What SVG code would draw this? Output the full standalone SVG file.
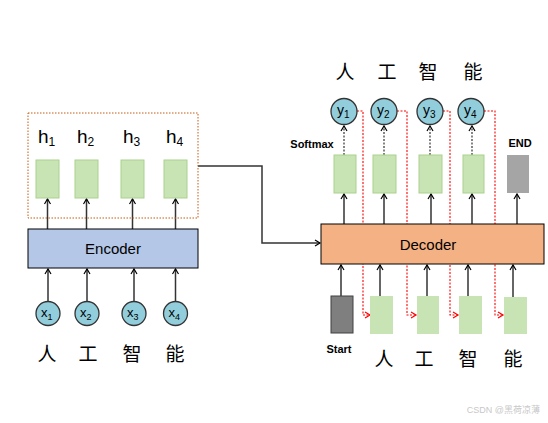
<svg xmlns="http://www.w3.org/2000/svg" width="548" height="423" viewBox="0 0 548 423">
<defs>
<marker id="ah" markerWidth="8" markerHeight="8" refX="6" refY="4" orient="auto" markerUnits="userSpaceOnUse">
<path d="M1,1 L6,4 L1,7" fill="none" stroke="#000" stroke-width="1.2"/>
</marker>
<marker id="ahr" markerWidth="8" markerHeight="8" refX="6" refY="4" orient="auto" markerUnits="userSpaceOnUse">
<path d="M1,1 L6,4 L1,7" fill="none" stroke="#FF0000" stroke-width="1.2"/>
</marker>
<style>
.g{fill:#C9E4B4;stroke:#A9D18E;stroke-width:1}
.c{fill:#92CDDC;stroke:#333;stroke-width:1.3}
.t{font-family:"Liberation Sans",Arial,sans-serif;fill:#000}
.cj{font-family:"Noto Sans CJK SC",sans-serif;font-size:19px;fill:#000;text-anchor:middle}
.b{font-family:"Liberation Sans",Arial,sans-serif;font-weight:bold;font-size:11px;fill:#000;text-anchor:middle}
.a{stroke:#333;stroke-width:1.5;fill:none;marker-end:url(#ah)}
.ad{stroke:#333;stroke-width:1.2;stroke-dasharray:2,1.5;fill:none;marker-end:url(#ah)}
.r{stroke:#FF0000;stroke-width:1.1;stroke-dasharray:2,1.5;fill:none;marker-end:url(#ahr)}
</style>
</defs>
<rect width="548" height="423" fill="#fff"/>

<g id="connectors">
<line class="a" x1="47.5" y1="229" x2="47.5" y2="199"/>
<line class="a" x1="86.5" y1="229" x2="86.5" y2="199"/>
<line class="a" x1="132.5" y1="229" x2="132.5" y2="199"/>
<line class="a" x1="175.5" y1="229" x2="175.5" y2="199"/>
<line class="a" x1="48" y1="301" x2="48" y2="269"/>
<line class="a" x1="87" y1="301" x2="87" y2="269"/>
<line class="a" x1="134" y1="301" x2="134" y2="269"/>
<line class="a" x1="175.5" y1="301" x2="175.5" y2="269"/>
<polyline class="a" points="198,166 262,166 262,243 320,243"/>
<line class="a" x1="344" y1="224" x2="344" y2="194"/>
<line class="a" x1="384" y1="224" x2="384" y2="194"/>
<line class="a" x1="431" y1="224" x2="431" y2="194"/>
<line class="a" x1="472" y1="224" x2="472" y2="194"/>
<line class="a" x1="517" y1="224" x2="517" y2="194"/>
<line class="a" x1="341" y1="296" x2="341" y2="265"/>
<line class="a" x1="380" y1="296" x2="380" y2="265"/>
<line class="a" x1="427" y1="296" x2="427" y2="265"/>
<line class="a" x1="468" y1="297" x2="468" y2="265"/>
<line class="a" x1="513" y1="297" x2="513" y2="265"/>
<line class="ad" x1="344" y1="155" x2="344" y2="126"/>
<line class="ad" x1="384" y1="155" x2="384" y2="126"/>
<line class="ad" x1="430" y1="155" x2="430" y2="126"/>
<line class="ad" x1="472" y1="155" x2="472" y2="126"/>
<polyline class="r" points="357,111 363,111 363,315 370,315"/>
<polyline class="r" points="397,111 407,111 407,315 416,315"/>
<polyline class="r" points="443,111 450,111 450,315 458,315"/>
<polyline class="r" points="484,111 495,111 495,315 503,315"/>
</g>

<g id="encoder-states">
<rect x="28" y="113" width="170" height="105" fill="none" stroke="#C55A11" stroke-width="1" stroke-dasharray="1.5,1.5"/>
<rect class="g" x="36" y="160" width="23" height="38"/>
<rect class="g" x="75" y="160" width="23" height="38"/>
<rect class="g" x="121" y="160" width="23" height="38"/>
<rect class="g" x="164" y="160" width="23" height="38"/>
<text class="t" x="38" y="143" font-size="19">h<tspan font-size="12" dy="3">1</tspan></text>
<text class="t" x="77" y="143" font-size="19">h<tspan font-size="12" dy="3">2</tspan></text>
<text class="t" x="123" y="143" font-size="19">h<tspan font-size="12" dy="3">3</tspan></text>
<text class="t" x="166" y="143" font-size="19">h<tspan font-size="12" dy="3">4</tspan></text>
</g>

<g id="encoder">
<rect x="28" y="229" width="170" height="39" fill="#B4C7E7" stroke="#000" stroke-width="1"/>
<text class="t" x="113" y="254" font-size="15" text-anchor="middle">Encoder</text>
</g>

<g id="encoder-inputs">
<circle class="c" cx="48" cy="313.5" r="12"/>
<circle class="c" cx="87" cy="313.5" r="12"/>
<circle class="c" cx="134" cy="313.5" r="12"/>
<circle class="c" cx="175.5" cy="313.5" r="12"/>
<text class="t" x="41" y="317" font-size="13">x<tspan font-size="9" dy="3">1</tspan></text>
<text class="t" x="80" y="317" font-size="13">x<tspan font-size="9" dy="3">2</tspan></text>
<text class="t" x="127" y="317" font-size="13">x<tspan font-size="9" dy="3">3</tspan></text>
<text class="t" x="168.5" y="317" font-size="13">x<tspan font-size="9" dy="3">4</tspan></text>
<text class="cj" x="47" y="361">人</text>
<text class="cj" x="88" y="361">工</text>
<text class="cj" x="132" y="361">智</text>
<text class="cj" x="175" y="361">能</text>
</g>

<g id="decoder">
<rect x="321" y="224" width="223" height="40" fill="#F4B183" stroke="#000" stroke-width="1"/>
<text class="t" x="428" y="250" font-size="15" text-anchor="middle">Decoder</text>
</g>

<g id="decoder-outputs">
<rect class="g" x="334" y="155" width="22" height="38"/>
<rect class="g" x="373" y="155" width="23" height="38"/>
<rect class="g" x="419" y="155" width="23" height="38"/>
<rect class="g" x="463" y="155" width="21" height="38"/>
<rect x="507" y="155" width="22" height="38" fill="#A5A5A5"/>
<text class="b" x="312" y="148">Softmax</text>
<text class="b" x="520" y="147">END</text>
<circle class="c" cx="344" cy="111.5" r="13"/>
<circle class="c" cx="384" cy="111.5" r="13"/>
<circle class="c" cx="430" cy="111.5" r="13"/>
<circle class="c" cx="471" cy="111.5" r="13"/>
<text class="t" x="337" y="115" font-size="14">y<tspan font-size="10" dy="3">1</tspan></text>
<text class="t" x="377" y="115" font-size="14">y<tspan font-size="10" dy="3">2</tspan></text>
<text class="t" x="423" y="115" font-size="14">y<tspan font-size="10" dy="3">3</tspan></text>
<text class="t" x="464" y="115" font-size="14">y<tspan font-size="10" dy="3">4</tspan></text>
<text class="cj" x="345" y="79">人</text>
<text class="cj" x="387" y="79">工</text>
<text class="cj" x="428" y="79">智</text>
<text class="cj" x="473" y="79">能</text>
</g>

<g id="decoder-inputs">
<rect x="331" y="296" width="22" height="37" fill="#7F7F7F" stroke="#404040" stroke-width="1"/>
<rect x="370" y="296" width="23" height="38" fill="#C9E4B4"/>
<rect x="417" y="296" width="22" height="38" fill="#C9E4B4"/>
<rect x="459" y="296" width="23" height="38" fill="#C9E4B4"/>
<rect x="504" y="297" width="23" height="37" fill="#C9E4B4"/>
<text class="b" x="339" y="353">Start</text>
<text class="cj" x="384" y="366">人</text>
<text class="cj" x="424" y="366">工</text>
<text class="cj" x="468" y="366">智</text>
<text class="cj" x="513" y="366">能</text>
</g>

<text x="540" y="413" font-family="'Liberation Sans','Noto Sans CJK SC',sans-serif" font-size="9" fill="#C8C8C8" text-anchor="end">CSDN @黑荷凉薄</text>
</svg>
